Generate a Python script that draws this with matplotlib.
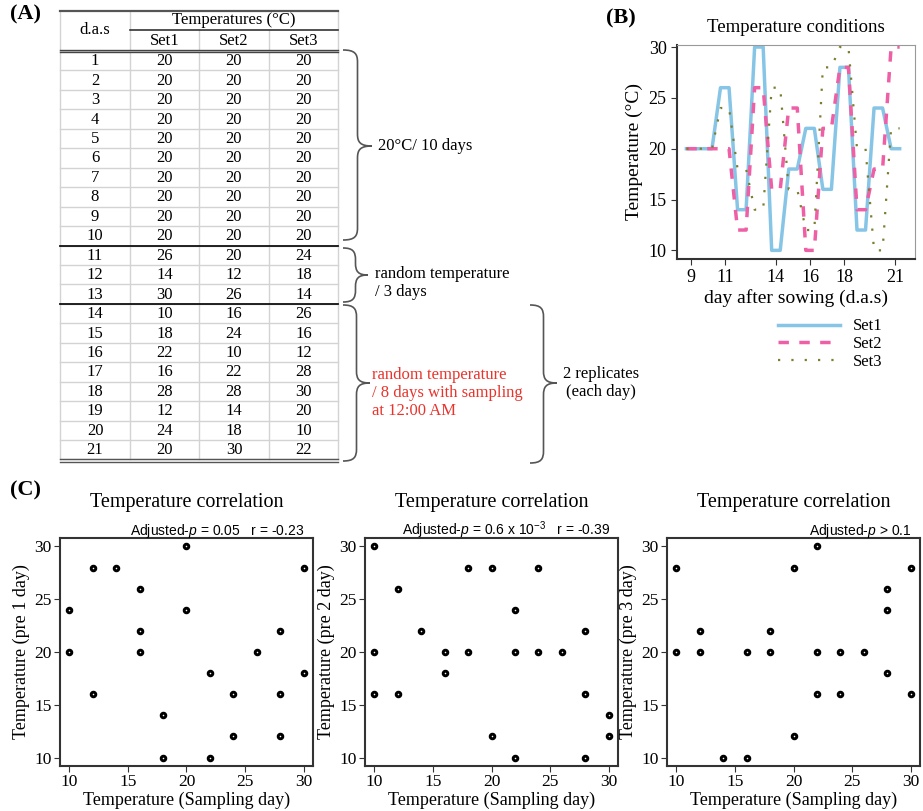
import matplotlib.pyplot as plt
from matplotlib.path import Path
from matplotlib.patches import PathPatch

plt.rcParams['font.family'] = ['Liberation Serif', 'DejaVu Serif']
plt.rcParams['mathtext.fontset'] = 'custom'
plt.rcParams['mathtext.rm'] = 'Liberation Sans'
plt.rcParams['mathtext.it'] = 'Liberation Sans:italic'

# ---- data: temperature schedule (d.a.s, °C) ----
days = [1, 2, 3, 4, 5, 6, 7, 8, 9, 10, 11, 12, 13, 14, 15, 16, 17, 18, 19, 20, 21]
set1 = [20, 20, 20, 20, 20, 20, 20, 20, 20, 20, 26, 14, 30, 10, 18, 22, 16, 28, 12, 24, 20]
set2 = [20, 20, 20, 20, 20, 20, 20, 20, 20, 20, 20, 12, 26, 16, 24, 10, 22, 28, 14, 18, 30]
set3 = [20, 20, 20, 20, 20, 20, 20, 20, 20, 20, 24, 18, 14, 26, 16, 12, 28, 30, 20, 10, 22]
set_names = ['Set1', 'Set2', 'Set3']
b_ticks = [9, 11, 14, 16, 18, 21]

# ---- data: correlation scatter (sampling day temp vs. previous days) ----
pre1_x = [10, 10, 12, 12, 14, 16, 16, 16, 18, 18, 20, 20, 22, 22, 24, 24, 26, 28, 28, 28, 30, 30]
pre1_y = [24, 20, 28, 16, 28, 26, 22, 20, 14, 10, 30, 24, 18, 10, 16, 12, 20, 22, 16, 12, 28, 18]
pre2_x = [10, 10, 10, 12, 12, 14, 16, 16, 18, 18, 20, 20, 22, 22, 22, 24, 24, 26, 28, 28, 28, 30, 30]
pre2_y = [30, 20, 16, 26, 16, 22, 20, 18, 28, 20, 28, 12, 24, 20, 10, 28, 20, 20, 22, 16, 10, 14, 12]
pre3_x = [10, 10, 12, 12, 14, 16, 16, 18, 18, 20, 20, 22, 22, 22, 24, 24, 26, 28, 28, 28, 30, 30]
pre3_y = [28, 20, 22, 20, 10, 20, 10, 22, 20, 28, 12, 30, 20, 16, 20, 16, 20, 26, 24, 18, 28, 16]
stat_labels = ['Adjusted-$p$ = 0.05   r = -0.23',
               'Adjusted-$p$ = 0.6 x 10$^{-3}$   r = -0.39',
               'Adjusted-$p$ > 0.1']
y_labels = ['Temperature (pre 1 day)', 'Temperature (pre 2 day)', 'Temperature (pre 3 day)']

W, H = 923, 811
fig = plt.figure(figsize=(W / 100, H / 100), dpi=100)

# background axes in pixel coordinates for the table and braces
bg = fig.add_axes([0, 0, 1, 1])
bg.set_xlim(0, W)
bg.set_ylim(H, 0)
bg.axis('off')

# ---- panel A: table ----
col_x = [60, 130, 199, 269, 338]
row_top, row_h = 51.0, 19.45
n = len(days)
light = '#d3d3d3'
for i in range(n + 1):
    y = row_top + i * row_h
    bg.plot([col_x[0], col_x[-1]], [y, y], color=light, lw=1)
bg.plot([col_x[0], col_x[0]], [11, row_top + n * row_h], color=light, lw=1)
bg.plot([col_x[-1], col_x[-1]], [11, row_top + n * row_h], color=light, lw=1)
bg.plot([col_x[1], col_x[1]], [11, row_top + n * row_h], color=light, lw=1)
for cx in col_x[2:4]:
    bg.plot([cx, cx], [30, row_top + n * row_h], color=light, lw=1)

bg.plot([60, 338], [11, 11], color='#555555', lw=1.6)
bg.plot([130, 338], [30, 30], color='#333333', lw=1.2)
bg.plot([60, 338], [49.5, 49.5], color='#444444', lw=1.0)
bg.plot([60, 338], [52, 52], color='#444444', lw=1.0)
for k in (10, 13):
    y = row_top + k * row_h
    bg.plot([60, 338], [y, y], color='#111111', lw=1.3)
yb = row_top + n * row_h
bg.plot([60, 338], [yb, yb], color='#555555', lw=1.0)
bg.plot([60, 338], [yb + 2.5, yb + 2.5], color='#555555', lw=1.0)

fs_tab = 12
bg.text(95, 30, 'd.a.s', ha='center', va='center', fontsize=fs_tab)
bg.text(234, 20, 'Temperatures (°C)', ha='center', va='center', fontsize=fs_tab)
for j, name in enumerate(set_names):
    bg.text((col_x[j + 1] + col_x[j + 2]) / 2, 41, name, ha='center', va='center', fontsize=fs_tab)
for i, d in enumerate(days):
    yc = row_top + (i + 0.5) * row_h
    vals = [d, set1[i], set2[i], set3[i]]
    for j, v in enumerate(vals):
        bg.text((col_x[j] + col_x[j + 1]) / 2, yc + 0.5, str(v), ha='center', va='center', fontsize=fs_tab)


def brace(ax, x0, y0, y1, xt, ym):
    xv = (x0 + xt) / 2
    r = min(12, (ym - y0) * 0.45, (y1 - ym) * 0.45)
    verts = [(x0, y0),
             (x0 + (xv - x0) * 0.8, y0), (xv, y0 + r * 0.3), (xv, y0 + r),
             (xv, ym - r),
             (xv, ym - r * 0.3), (xv + (xt - xv) * 0.2, ym), (xt, ym),
             (xv + (xt - xv) * 0.2, ym), (xv, ym + r * 0.3), (xv, ym + r),
             (xv, y1 - r),
             (xv, y1 - r * 0.3), (x0 + (xv - x0) * 0.8, y1), (x0, y1)]
    codes = ([Path.MOVETO] + [Path.CURVE4] * 3 + [Path.LINETO] + [Path.CURVE4] * 6
             + [Path.LINETO] + [Path.CURVE4] * 3)
    ax.add_patch(PathPatch(Path(verts, codes), facecolor='none', edgecolor='#555555', lw=1.2))


brace(bg, 343, 50, 240, 372, 146)
brace(bg, 343, 248, 302, 368, 275)
brace(bg, 343, 305, 461, 370, 383)
brace(bg, 530, 305, 463, 557, 383)
bg.text(378, 146, '20°C/ 10 days', va='center', fontsize=12)
bg.text(375, 283, 'random temperature\n/ 3 days', va='center', fontsize=12, linespacing=1.2)
bg.text(372, 393, 'random temperature\n/ 8 days with sampling\nat 12:00 AM', va='center',
        fontsize=12, linespacing=1.2, color='#e8342c')
bg.text(601, 383, '2 replicates\n(each day)', ha='center', va='center', fontsize=12,
        linespacing=1.2, multialignment='center')

bg.text(10, 4, '(A)', fontsize=16, fontweight='bold', va='top')
bg.text(606, 8, '(B)', fontsize=16, fontweight='bold', va='top')
bg.text(10, 480, '(C)', fontsize=16, fontweight='bold', va='top')

# ---- panel B: temperature conditions ----
axb = fig.add_axes([677 / W, 1 - 259 / H, 238 / W, 214 / H])


def plateau(dd, vv, w=0.25):
    xs, ys = [], []
    for d, v in zip(dd, vv):
        xs += [d - w, d + w]
        ys += [v, v]
    return xs, ys


styles = [dict(color='#87c5e6', lw=2.5, ls='-'),
          dict(color='#ee5fa6', lw=2.5, ls=(0, (3, 3))),
          dict(color='#7d7d30', lw=1.6, ls=(0, (1, 5)))]
handles = []
for vals, name, st in zip([set1, set2, set3], set_names, styles):
    xs, ys = plateau(days[8:], vals[8:])
    ln, = axb.plot(xs, ys, label=name, **st)
    handles.append(ln)
axb.set_xlim(8.2, 22.15)
axb.set_ylim(9.15, 30.2)
axb.set_xticks(b_ticks)
axb.set_yticks([10, 15, 20, 25, 30])
axb.tick_params(labelsize=13, length=4, color='#333333')
axb.spines['left'].set_linewidth(1.5)
axb.spines['bottom'].set_linewidth(1.5)
axb.spines['left'].set_color('#333333')
axb.spines['bottom'].set_color('#333333')
axb.spines['top'].set_color('#999999')
axb.spines['right'].set_color('#999999')
axb.set_title('Temperature conditions', fontsize=13.5, pad=9)
axb.set_xlabel('day after sowing (d.a.s)', fontsize=14, labelpad=2)
axb.set_ylabel('Temperature (°C)', fontsize=14, labelpad=4)
fig.legend(handles=handles, labels=set_names, loc='center left',
           bbox_to_anchor=(778 / W, 1 - 344 / H), frameon=False, fontsize=12,
           handlelength=3.7, handletextpad=0.8, labelspacing=0.1,
           borderpad=0, borderaxespad=0)

# ---- panel C: correlations ----
lefts = [60, 365, 667]
data_c = [(pre1_x, pre1_y), (pre2_x, pre2_y), (pre3_x, pre3_y)]
for left, (xv, yv), stat, ylab in zip(lefts, data_c, stat_labels, y_labels):
    ax = fig.add_axes([left / W, 1 - 766 / H, 253 / W, 228 / H])
    ax.scatter(xv, yv, s=11, facecolors='white', edgecolors='black', linewidths=2.1, zorder=3)
    ax.set_xlim(9.2, 30.8)
    ax.set_ylim(9.2, 30.8)
    ax.set_xticks([10, 15, 20, 25, 30])
    ax.set_yticks([10, 15, 20, 25, 30])
    ax.tick_params(labelsize=12.5, length=4, color='#333333', pad=2)
    for sp in ax.spines.values():
        sp.set_linewidth(1.5)
        sp.set_color('#333333')
    ax.set_title('Temperature correlation', fontsize=14.5, pad=22)
    ax.annotate(stat, xy=(1, 1), xycoords='axes fraction', xytext=(-6, 2.5),
                textcoords='offset points', ha='right', va='baseline', fontsize=10,
                family='Liberation Sans')
    ax.set_xlabel('Temperature (Sampling day)', fontsize=13, labelpad=1)
    ax.set_ylabel(ylab, fontsize=13, labelpad=3)

fig.savefig('out.png', dpi=100)
